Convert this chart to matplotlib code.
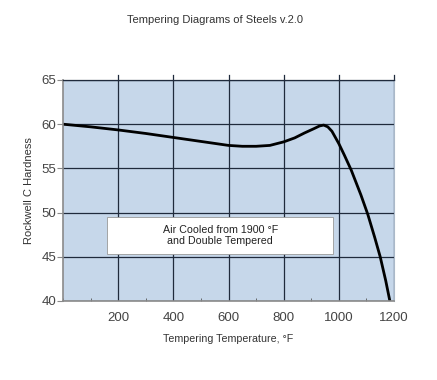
import matplotlib
matplotlib.use("Agg")
import matplotlib.pyplot as plt
from matplotlib.ticker import MultipleLocator
from matplotlib.patches import Rectangle

# Data
temps = [0, 100, 200, 300, 400, 500, 600, 650, 700, 750, 800, 840, 875, 910,
         930, 945, 960, 975, 1000, 1020, 1045, 1080, 1105, 1130, 1150, 1170, 1185]
hardness = [60.0, 59.7, 59.35, 58.95, 58.5, 58.05, 57.6, 57.5, 57.5, 57.6, 58.0,
            58.45, 59.0, 59.5, 59.8, 59.9, 59.7, 59.2, 57.8, 56.5, 54.8, 52.0,
            49.8, 47.2, 45.0, 42.3, 40.0]

x_ticks = [200, 400, 600, 800, 1000, 1200]
y_ticks = [40, 45, 50, 55, 60, 65]

title = "Tempering Diagrams of Steels v.2.0"
xlabel = "Tempering Temperature, °F"
ylabel = "Rockwell C Hardness"
note = "Air Cooled from 1900 °F\nand Double Tempered"

plt.rcParams['font.family'] = ['Liberation Sans', 'DejaVu Sans']

fig = plt.figure(figsize=(4.37, 3.8), dpi=100)
fig.patch.set_facecolor('white')
ax = fig.add_axes([0.1442, 0.2079, 0.7574, 0.5816])
ax.set_facecolor('#c6d7ea')

ax.set_xlim(0, 1200)
ax.set_ylim(40, 65)
ax.set_xticks(x_ticks)
ax.set_yticks(y_ticks)
ax.xaxis.set_minor_locator(MultipleLocator(100))

ax.grid(True, which='major', color='#1f2a3c', linewidth=0.9)
ax.set_axisbelow(True)

for s in ['left', 'bottom']:
    ax.spines[s].set_color('#8a8a8a')
    ax.spines[s].set_linewidth(1.2)
ax.spines['top'].set_color('#1f2a3c')
ax.spines['top'].set_linewidth(0.9)
ax.spines['right'].set_color('#aab8c8')
ax.spines['right'].set_linewidth(0.8)

ax.tick_params(axis='y', which='major', direction='out', length=4, color='#8a8a8a',
               labelsize=9.5, labelcolor='#444444', pad=1)
ax.tick_params(axis='x', which='major', direction='in', length=0,
               labelsize=9.5, labelcolor='#444444', pad=8)
ax.tick_params(axis='x', which='minor', direction='in', length=2, color='#555555')
# outward ticks on top
for xt in x_ticks:
    ax.plot([xt, xt], [65, 65.6], color='#1f2a3c', lw=0.9, clip_on=False)

ax.plot(temps, hardness, color='black', linewidth=2.0, solid_capstyle='butt')

ax.add_patch(Rectangle((161, 45.3), 818, 4.2, facecolor='white', edgecolor='#999999',
                       lw=0.6, zorder=4))
ax.text(570, 47.4, note, ha='center', va='center', fontsize=7.7, color='#222222',
        linespacing=1.1, zorder=5)

ax.set_xlabel(xlabel, fontsize=7.7, color='#333333', labelpad=7)
ax.set_ylabel(ylabel, fontsize=8, color='#333333', labelpad=5)
fig.text(0.492, 0.947, title, ha='center', va='center', fontsize=8, color='#333333')

fig.savefig('out.png', dpi=100)
